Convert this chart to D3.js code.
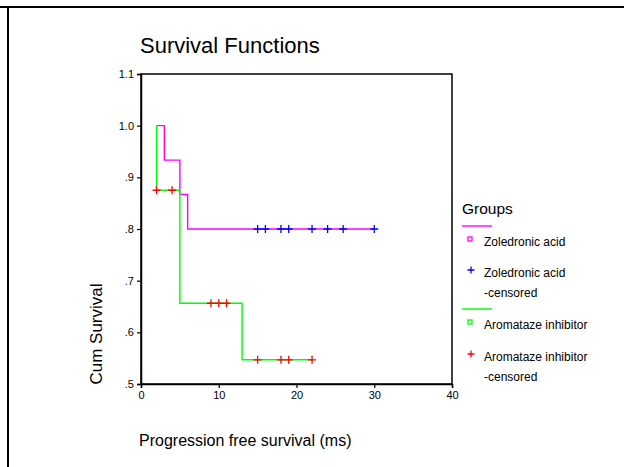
<!DOCTYPE html>
<html>
<head>
<meta charset="utf-8">
<script src="https://cdn.jsdelivr.net/npm/d3@7"></script>
<style>
  body { margin: 0; background: #fff; }
  svg { display: block; font-family: Arial, "Liberation Sans", sans-serif; }
</style>
</head>
<body>
<div id="chart"></div>
<script>
// Kaplan-Meier steps (time, cumulative survival)
const zolTimes = [2, 3, 5, 6, 30];
const zolSurv  = [1.0, 0.9333, 0.8667, 0.8, 0.8];
const aroTimes = [2, 2, 5, 13, 22];
const aroSurv  = [1.0, 0.875, 0.65625, 0.546875, 0.546875];

// censored observations
const zolCensTimes = [15, 16, 18, 19, 22, 24, 26, 30];
const zolCensSurv  = [0.8, 0.8, 0.8, 0.8, 0.8, 0.8, 0.8, 0.8];
const aroCensTimes = [2, 4, 9, 10, 11, 15, 18, 19, 22];
const aroCensSurv  = [0.875, 0.875, 0.65625, 0.65625, 0.65625, 0.546875, 0.546875, 0.546875, 0.546875];

const xTicks = [0, 10, 20, 30, 40];
const yTicks = [0.5, 0.6, 0.7, 0.8, 0.9, 1.0, 1.1];

const legendItems = [
  { kind: "line", color: "#ff00ff" },
  { kind: "square", color: "#ff00ff", label: ["Zoledronic acid"] },
  { kind: "plus", color: "#0000ff", label: ["Zoledronic acid", "-censored"] },
  { kind: "line", color: "#00ff00" },
  { kind: "square", color: "#00ff00", label: ["Aromataze inhibitor"] },
  { kind: "plus", color: "#ff0000", label: ["Aromataze inhibitor", "-censored"] }
];

const width = 624, height = 467;
const plot = { left: 141, right: 452, top: 74, bottom: 384 };

const svg = d3.select("#chart").append("svg")
  .attr("width", width)
  .attr("height", height);

// outer frame (top and left edges only)
svg.append("line").attr("x1", 0).attr("x2", width).attr("y1", 7).attr("y2", 7)
  .attr("stroke", "#000").attr("stroke-width", 2);
svg.append("line").attr("x1", 8).attr("x2", 8).attr("y1", 7).attr("y2", height)
  .attr("stroke", "#000").attr("stroke-width", 2);

svg.append("text")
  .attr("x", 140).attr("y", 53)
  .attr("font-size", 22)
  .attr("fill", "#000")
  .text("Survival Functions");

const x = d3.scaleLinear().domain([0, 40]).range([plot.left, plot.right]);
const y = d3.scaleLinear().domain([0.5, 1.1]).range([plot.bottom, plot.top]);

// plot box
svg.append("rect")
  .attr("x", plot.left).attr("y", plot.top)
  .attr("width", plot.right - plot.left).attr("height", plot.bottom - plot.top)
  .attr("fill", "none").attr("stroke", "#000").attr("stroke-width", 1.5);

const fmt = d => d >= 1 ? d.toFixed(1) : d.toFixed(1).replace(/^0/, "");

const yAxis = svg.append("g")
  .attr("transform", `translate(${plot.left},0)`)
  .call(d3.axisLeft(y).tickValues(yTicks).tickFormat(fmt).tickSize(4).tickPadding(3));
const xAxis = svg.append("g")
  .attr("transform", `translate(0,${plot.bottom})`)
  .call(d3.axisBottom(x).tickValues(xTicks).tickSize(4).tickPadding(3));

[xAxis, yAxis].forEach(ax => {
  ax.select(".domain").attr("stroke-width", 1.5);
  ax.selectAll(".tick line").attr("stroke-width", 1.2);
  ax.selectAll("text")
    .attr("font-family", "Arial, 'Liberation Sans', sans-serif")
    .attr("font-size", 11)
    .attr("fill", "#000");
});

svg.append("text")
  .attr("transform", "translate(102,334) rotate(-90)")
  .attr("text-anchor", "middle")
  .attr("font-size", 17)
  .text("Cum Survival");

svg.append("text")
  .attr("x", 139).attr("y", 446)
  .attr("font-size", 16)
  .text("Progression free survival (ms)");

// survival curves
const step = d3.line()
  .x(d => x(d[0]))
  .y(d => y(d[1]))
  .curve(d3.curveStepAfter);

const curves = [
  { pts: d3.zip(zolTimes, zolSurv), color: "#ff00ff" },
  { pts: d3.zip(aroTimes, aroSurv), color: "#00ff00" }
];

svg.selectAll("path.km")
  .data(curves)
  .join("path")
  .attr("class", "km")
  .attr("d", d => step(d.pts))
  .attr("fill", "none")
  .attr("stroke", d => d.color)
  .attr("stroke-width", 1.4);

// censor marks
const plusPath = (cx, cy, r) => `M${cx - r},${cy}H${cx + r}M${cx},${cy - r}V${cy + r}`;

const censSets = [
  { pts: d3.zip(aroCensTimes, aroCensSurv), color: "#ff0000" },
  { pts: d3.zip(zolCensTimes, zolCensSurv), color: "#0000ff" }
];

censSets.forEach(set => {
  svg.append("g").selectAll("path")
    .data(set.pts)
    .join("path")
    .attr("d", d => plusPath(x(d[0]), y(d[1]), 4))
    .attr("stroke", set.color)
    .attr("stroke-width", 1.3)
    .attr("fill", "none");
});

// legend
const leg = svg.append("g").attr("transform", "translate(462,0)");
leg.append("text").attr("x", 0).attr("y", 214).attr("font-size", 15.5).text("Groups");

const rowY = [226, 239, 270, 309, 322, 354];
legendItems.forEach((it, i) => {
  const cy = rowY[i];
  if (it.kind === "line") {
    leg.append("line").attr("x1", 0).attr("x2", 30).attr("y1", cy).attr("y2", cy)
      .attr("stroke", it.color).attr("stroke-width", 1.4);
  } else if (it.kind === "square") {
    leg.append("rect").attr("x", 6).attr("y", cy - 2).attr("width", 4).attr("height", 4)
      .attr("fill", "none").attr("stroke", it.color).attr("stroke-width", 1.3);
  } else {
    leg.append("path").attr("d", plusPath(9, cy, 3.5))
      .attr("stroke", it.color).attr("stroke-width", 1.3);
  }
  if (it.label) {
    it.label.forEach((s, j) => {
      leg.append("text")
        .attr("x", 22).attr("y", cy + 7 + j * 20)
        .attr("font-size", 12)
        .text(s);
    });
  }
});
</script>
</body>
</html>
